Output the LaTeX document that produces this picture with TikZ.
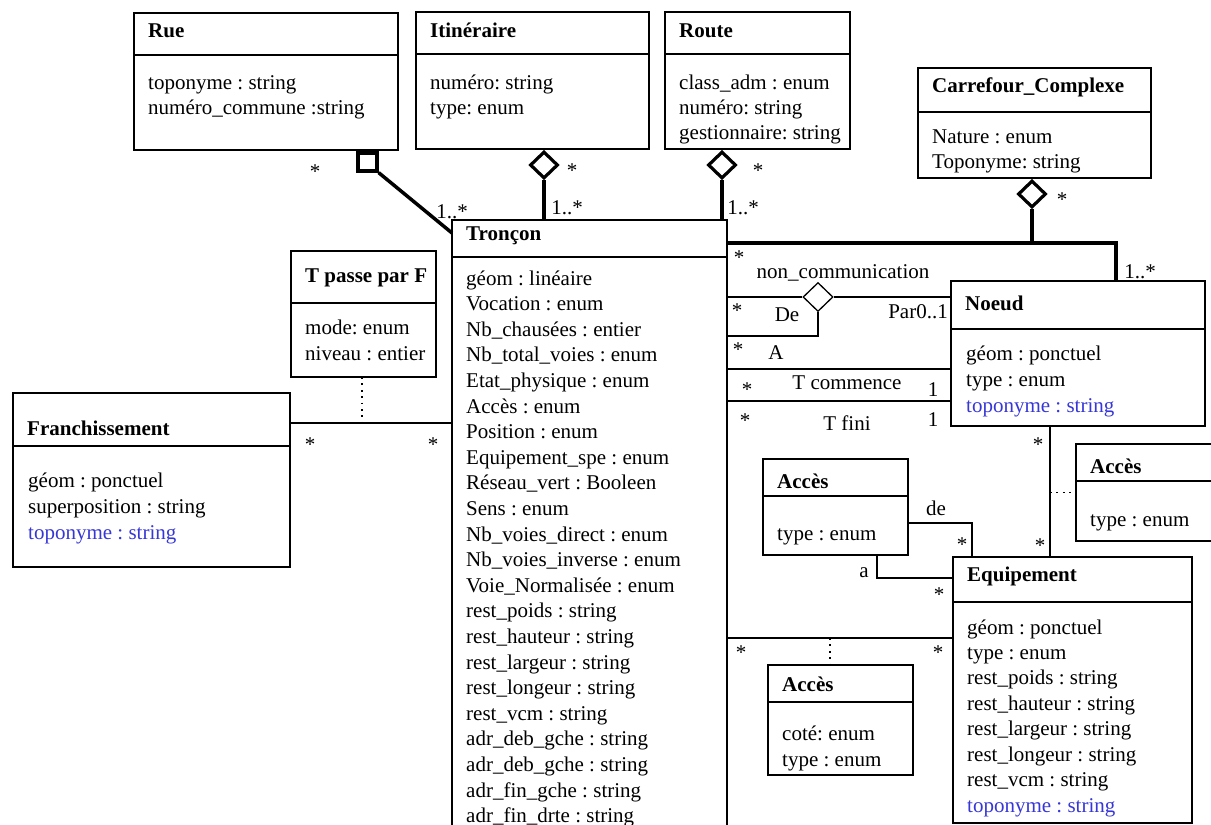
\documentclass[tikz,border=0pt]{standalone}
\usepackage{fontspec}
\setmainfont{Liberation Serif}
\usetikzlibrary{shapes.geometric,calc}
\definecolor{attrblue}{RGB}{55,55,215}
\frenchspacing
\newcommand\umlclass[8]{%
  \node[box, minimum width={#4-#2}, minimum height={#5-#3}] (#1) at (#2,#3) {};
  \draw[boxline] (#2,#6) -- (#4,#6);
  \node[ttl] (#1-t) at (#2+14,#7) {#8};
}
\begin{document}
\begin{tikzpicture}[x=1pt,y=-1pt,
  box/.style={draw, line width=1.6pt, inner sep=0pt, outer sep=0pt, anchor=north west},
  boxline/.style={line width=1.6pt},
  ttl/.style={anchor=base west, inner sep=0pt, font=\fontsize{21}{25}\selectfont\bfseries\frenchspacing},
  attr/.style={anchor=base west, inner sep=0pt, font=\fontsize{21}{25}\selectfont\frenchspacing},
  battr/.style={attr, text=attrblue},
  lbl/.style={inner sep=0pt, font=\fontsize{21}{25}\selectfont\frenchspacing},
  conn/.style={line width=1.3pt},
  thk/.style={line width=3.5pt},
  dots/.style={line width=1.6pt, dash pattern=on 1.8pt off 4.6pt},
  agg/.style={diamond, draw, line width=3.2pt, inner sep=0pt, minimum width=28pt, minimum height=27pt, fill=white},
  agthin/.style={diamond, draw, line width=1.3pt, inner sep=0pt, minimum width=30pt, minimum height=29pt, fill=white}
]
\useasboundingbox (0,0) rectangle (1211,825);
\fill[white] (0,0) rectangle (1211,825);

% ---------- classes ----------
\umlclass{rue}{134}{13}{398}{150}{55}{37}{Rue}
\node[attr] (rue-a1) at (148,89) {toponyme : string};
\node[attr] (rue-a2) at (148,114) {numéro\_commune :string};

\umlclass{iti}{416}{12}{649}{149}{54}{37}{Itinéraire}
\node[attr] (iti-a1) at (430,89) {numéro: string};
\node[attr] (iti-a2) at (430,114) {type: enum};

\umlclass{rou}{665}{12}{850}{149}{54}{37}{Route}
\node[attr] (rou-a1) at (679,89) {class\_adm : enum};
\node[attr] (rou-a2) at (679,114) {numéro: string};
\node[attr] (rou-a3) at (679,139) {gestionnaire: string};

\umlclass{car}{918}{68}{1151}{178}{112}{92}{Carrefour\_Complexe}
\node[attr] (car-a1) at (932,143) {Nature : enum};
\node[attr] (car-a2) at (932,168) {Toponyme: string};

\umlclass{tr}{452}{220}{727}{860}{257}{240}{Tronçon}
\foreach \t [count=\i] in {géom : linéaire, Vocation : enum, Nb\_chausées : entier,
  Nb\_total\_voies : enum, Etat\_physique : enum, Accès : enum, Position : enum,
  Equipement\_spe : enum, Réseau\_vert : Booleen, Sens : enum, Nb\_voies\_direct : enum,
  Nb\_voies\_inverse : enum, Voie\_Normalisée : enum, rest\_poids : string,
  rest\_hauteur : string, rest\_largeur : string, rest\_longeur : string, rest\_vcm : string,
  adr\_deb\_gche : string, adr\_deb\_gche : string, adr\_fin\_gche : string, adr\_fin\_drte : string}
  \node[attr] (tr-a\i) at (466,{285+25.6*(\i-1)}) {\t};

\umlclass{tp}{291}{251}{436}{377}{303}{282}{T passe par F}
\node[attr] (tp-a1) at (305,334) {mode: enum};
\node[attr] (tp-a2) at (305,360) {niveau : entier};

\umlclass{fr}{13}{393}{290}{567}{446}{435}{Franchissement}
\node[attr] (fr-a1) at (28,487) {géom : ponctuel};
\node[attr] (fr-a2) at (28,513) {superposition : string};
\node[battr] (fr-a3) at (28,539) {toponyme : string};

\umlclass{no}{951}{281}{1205}{426}{329}{310}{Noeud}
\node[attr] (no-a1) at (966,360) {géom : ponctuel};
\node[attr] (no-a2) at (966,386) {type : enum};
\node[battr] (no-a3) at (966,412) {toponyme : string};

\umlclass{acr}{1076}{444}{1240}{541}{481}{473}{Accès}
\node[attr] (acr-a1) at (1090,526) {type : enum};

\umlclass{acm}{763}{459}{908}{555}{496}{488}{Accès}
\node[attr] (acm-a1) at (777,540) {type : enum};

\umlclass{eq}{953}{557}{1192}{823}{602}{581}{Equipement}
\foreach \t [count=\i] in {géom : ponctuel, type : enum, rest\_poids : string,
  rest\_hauteur : string, rest\_largeur : string, rest\_longeur : string, rest\_vcm : string}
  \node[attr] (eq-a\i) at (967,{634+25.4*(\i-1)}) {\t};
\node[battr] (eq-a8) at (967,812) {toponyme : string};

\umlclass{acb}{768}{665}{913}{775}{702}{691}{Accès}
\node[attr] (acb-a1) at (782,740) {coté: enum};
\node[attr] (acb-a2) at (782,766) {type : enum};

% ---------- aggregations / compositions ----------
\node[draw, line width=3.2pt, minimum width=19pt, minimum height=18pt, inner sep=0pt] (rsq) at (367.5,162) {};
\draw[thk] (rsq.south east) -- (tr.west |- 0,233);

\node[agg] (idia) at (544,165) {};
\draw[thk] (idia.south) -- (idia.south |- tr.north);

\node[agg] (rdia) at (722,165) {};
\draw[thk] (rdia.south) -- (rdia.south |- tr.north);

\node[agg] (cdia) at (1032,194) {};
\coordinate (j1) at (1032,243);
\coordinate (j2) at (1116,243);
\draw[thk] (cdia.south) -- (j1);
\draw[thk] (tr.east |- j1) -- (j2) -- (j2 |- no.north);

% ---------- associations ----------
\node[agthin] (nd) at (818,297) {};
\draw[conn] (nd.west) -- (tr.east |- nd.west);
\draw[conn] (nd.east) -- (no.west |- nd.east);
\draw[conn] (nd.south) |- (tr.east |- 0,336);
\draw[conn] (tr.east |- 0,369) -- (no.west |- 0,369);
\draw[conn] (tr.east |- 0,401) -- (no.west |- 0,401);
\draw[conn] (1050,0 |- no.south) -- (1050,0 |- eq.north);
\draw[dots] (1050,0 |- acr.west) -- (acr.west);
\draw[conn] (acm.east |- 0,523) -| (972,0 |- eq.north);
\draw[conn] (877,0 |- acm.south) |- (eq.west |- 0,578);
\draw[conn] (tr.east |- 0,638) -- (eq.west |- 0,638);
\draw[dots] (830,638) -- (830,0 |- acb.north);
\draw[conn] (fr.east |- 0,423) -- (tr.west |- 0,423);
\draw[dots] (362,0 |- tp.south) -- (362,423);

% ---------- labels ----------
\node[lbl] (l1) at (315,172) {*};
\node[lbl] (l2) at (452,212) {1..*};
\node[lbl] (l3) at (572,171) {*};
\node[lbl] (l4) at (567,208) {1..*};
\node[lbl] (l5) at (758,171) {*};
\node[lbl] (l6) at (743,208) {1..*};
\node[lbl] (l7) at (1062,200) {*};
\node[lbl] (l8) at (1140,272) {1..*};
\node[lbl] (l9) at (739,258) {*};
\node[lbl] (l10) at (843,273) {non\_communication};
\node[lbl] (l11) at (737,311) {*};
\node[lbl] (l12) at (787,315) {De};
\node[lbl] (l13) at (738,350) {*};
\node[lbl] (l14) at (776,353) {A};
\node[lbl] (l15) at (918,312) {Par0..1};
\node[lbl] (l16) at (847,383) {T commence};
\node[lbl] (l17) at (747,390) {*};
\node[lbl] (l18) at (933,390) {1};
\node[lbl] (l19) at (847,423) {T fini};
\node[lbl] (l20) at (745,421) {*};
\node[lbl] (l21) at (933,420) {1};
\node[lbl] (l22) at (1038,445) {*};
\node[lbl] (l23) at (1040,546) {*};
\node[lbl] (l24) at (936,508) {de};
\node[lbl] (l25) at (962,545) {*};
\node[lbl] (l26) at (864,573) {a};
\node[lbl] (l27) at (939,595) {*};
\node[lbl] (l28) at (741,653) {*};
\node[lbl] (l29) at (938,653) {*};
\node[lbl] (l30) at (310,445) {*};
\node[lbl] (l31) at (433,445) {*};
\end{tikzpicture}
\end{document}
